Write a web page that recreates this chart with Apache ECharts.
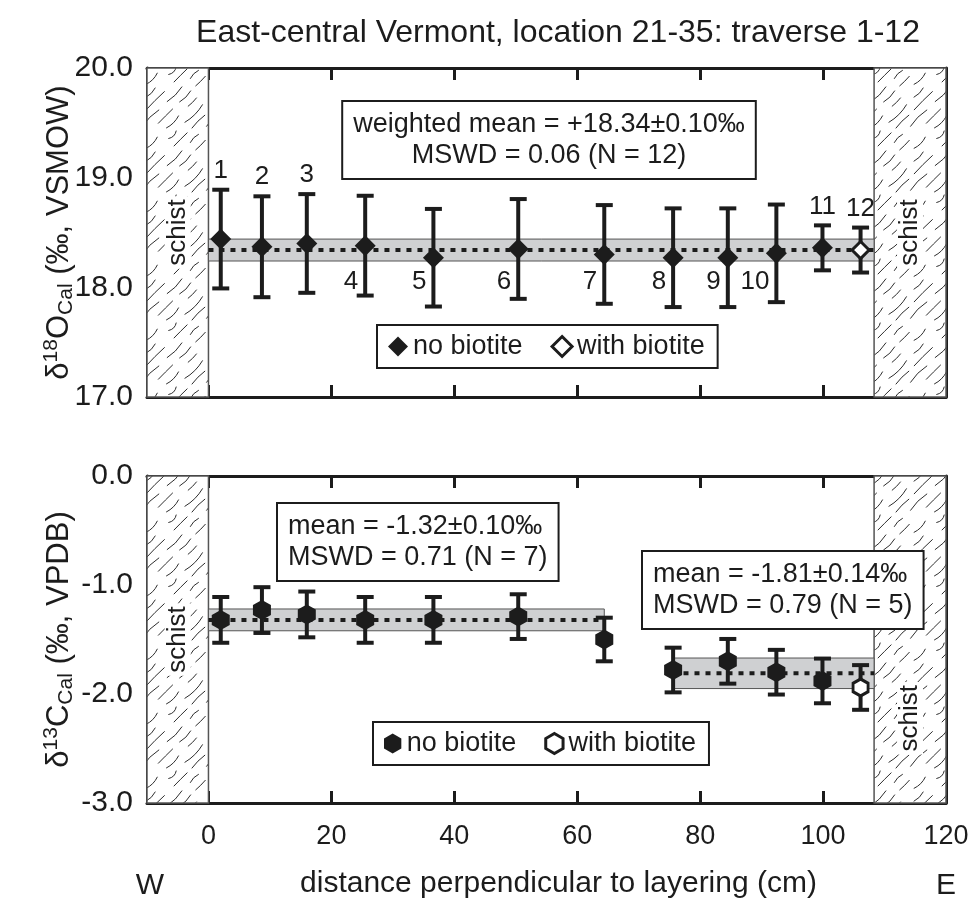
<!DOCTYPE html>
<html>
<head>
<meta charset="utf-8">
<script src="https://cdn.jsdelivr.net/npm/echarts@6/dist/echarts.min.js"></script>
<style>
  html, body { margin: 0; padding: 0; background: #fff; }
  #chart { width: 968px; height: 900px; }
</style>
</head>
<body>
<div id="chart"></div>
<script>
// Traverse 1-12, location 21-35, east-central Vermont
const SAMPLE_NO   = ['1', '2', '3', '4', '5', '6', '7', '8', '9', '10', '11', '12'];
const DIST_CM     = [2.0, 8.7, 16.0, 25.5, 36.6, 50.4, 64.4, 75.6, 84.5, 92.4, 99.9, 106.1];
const HAS_BIOTITE = [false, false, false, false, false, false, false, false, false, false, false, true];

// δ18O of calcite (‰ VSMOW) and 2σ
const D18O     = [18.44, 18.37, 18.40, 18.38, 18.27, 18.35, 18.30, 18.27, 18.27, 18.31, 18.36, 18.34];
const D18O_ERR = [0.45, 0.46, 0.45, 0.455, 0.445, 0.455, 0.45, 0.45, 0.45, 0.445, 0.205, 0.205];

// δ13C of calcite (‰ VPDB) and 2σ
const D13C     = [-1.32, -1.23, -1.27, -1.32, -1.32, -1.29, -1.50, -1.78, -1.70, -1.80, -1.88, -1.94];
const D13C_ERR = [0.21, 0.21, 0.21, 0.21, 0.21, 0.205, 0.20, 0.205, 0.205, 0.205, 0.205, 0.205];

// means: [value, ±], with the distance span they apply to
const O_MEAN    = [18.34, 0.10];
const O_SPAN    = [0, 108.3];
const C_MEAN_W  = [-1.32, 0.10];
const C_SPAN_W  = [0, 64.4];
const C_MEAN_E  = [-1.81, 0.14];
const C_SPAN_E  = [75.5, 108.3];

// schist contacts on either side of the calcite layer (cm)
const SCHIST_W = [-10, 0];
const SCHIST_E = [108.3, 120];

const X_TICKS   = [0, 20, 40, 60, 80, 100, 120];
const O_RANGE   = [17, 20];
const C_RANGE   = [-3, 0];

const FONT = '"Liberation Sans", Arial, Helvetica, sans-serif';
const INK = '#1c1c1c';
const FS = 27;

// sample numbers drawn above the bar (the rest sit lower-left of it)
const NUMBER_ABOVE = new Set([0, 1, 2, 10, 11]);
const LOWER_NUMBER_ROW = 18.05;

// --- hatch texture for the schist -------------------------------------
function makeHatch() {
  const S = 64;
  const cv = document.createElement('canvas');
  cv.width = S; cv.height = S;
  const ctx = cv.getContext('2d');
  ctx.fillStyle = '#fff';
  ctx.fillRect(0, 0, S, S);
  ctx.strokeStyle = '#2e2e2e';
  ctx.lineWidth = 1;
  ctx.lineCap = 'round';
  let seed = 11;
  const rnd = () => { seed = (seed * 16807) % 2147483647; return (seed - 1) / 2147483646; };
  const rows = 5, sp = S / rows;
  for (let k = 0; k < rows; k++) {
    let u = rnd() * 8;
    while (u < S - 6) {
      const len = 7 + rnd() * 13;
      const u1 = Math.min(u + len, S - 3);
      const x0 = k * sp + u, y0 = S - u;
      const x1 = k * sp + u1, y1 = S - u1;
      const bend = (rnd() - 0.5) * 5;
      const mx = (x0 + x1) / 2 + bend, my = (y0 + y1) / 2 + bend;
      for (const dx of [-S, 0, S]) for (const dy of [-S, 0, S]) {
        ctx.beginPath();
        ctx.moveTo(x0 + dx, y0 + dy);
        ctx.quadraticCurveTo(mx + dx, my + dy, x1 + dx, y1 + dy);
        ctx.stroke();
      }
      u = u1 + 5 + rnd() * 9;
    }
  }
  return cv;
}
const HATCH = { image: makeHatch(), repeat: 'repeat' };

const HEXAGON = 'path://M50,0 L93.3,25 L93.3,75 L50,100 L6.7,75 L6.7,25 Z';

// --- helpers -------------------------------------------------------------
function errorBars(showNumbers) {
  return (params, api) => {
    const x = api.value(0), y = api.value(1), e = api.value(2), i = api.value(3);
    const hi = api.coord([x, y + e]);
    const lo = api.coord([x, y - e]);
    const hw = 8.5;
    const st = { stroke: INK, lineWidth: 4 };
    const children = [
      { type: 'line', shape: { x1: hi[0], y1: hi[1], x2: lo[0], y2: lo[1] }, style: st },
      { type: 'line', shape: { x1: hi[0] - hw, y1: hi[1], x2: hi[0] + hw, y2: hi[1] }, style: st },
      { type: 'line', shape: { x1: lo[0] - hw, y1: lo[1], x2: lo[0] + hw, y2: lo[1] }, style: st }
    ];
    if (showNumbers) {
      const font = '26px ' + FONT;
      if (NUMBER_ABOVE.has(i)) {
        children.push({ type: 'text', x: hi[0], y: hi[1] - 6,
          style: { text: SAMPLE_NO[i], font, fill: INK, align: 'center', verticalAlign: 'bottom' } });
      } else {
        const row = api.coord([x, LOWER_NUMBER_ROW]);
        children.push({ type: 'text', x: hi[0] - 7, y: row[1],
          style: { text: SAMPLE_NO[i], font, fill: INK, align: 'right', verticalAlign: 'middle' } });
      }
    }
    return { type: 'group', children };
  };
}

function schistArea(gi, eastLabelPos) {
  const lbl = (pos) => ({
    show: true, formatter: 'schist', rotate: 90, position: pos,
    fontSize: 26, fontFamily: FONT, color: INK,
    align: 'center', verticalAlign: 'middle',
    backgroundColor: '#fff', padding: [0, 3]
  });
  const yr = gi ? C_RANGE : O_RANGE;
  return {
    type: 'line', xAxisIndex: gi * 2, yAxisIndex: gi * 2, data: [], z: 1, silent: true,
    markArea: {
      silent: true,
      itemStyle: { color: HATCH, opacity: 1, borderColor: '#555', borderWidth: 1.5 },
      data: [
        [{ xAxis: SCHIST_W[0], yAxis: yr[0], label: lbl('inside') }, { xAxis: SCHIST_W[1], yAxis: yr[1] }],
        [{ xAxis: SCHIST_E[0], yAxis: yr[0], label: lbl(eastLabelPos) }, { xAxis: SCHIST_E[1], yAxis: yr[1] }]
      ]
    }
  };
}

function meanBand(gi, mean, span) {
  return [
    {
      type: 'line', xAxisIndex: gi * 2, yAxisIndex: gi * 2, data: [], z: 2, silent: true,
      markArea: {
        silent: true,
        itemStyle: { color: '#cfd0d2', opacity: 1, borderColor: '#555', borderWidth: 1 },
        data: [[{ xAxis: span[0], yAxis: mean[0] - mean[1] }, { xAxis: span[1], yAxis: mean[0] + mean[1] }]]
      }
    },
    {
      type: 'line', xAxisIndex: gi * 2, yAxisIndex: gi * 2, z: 3, silent: true,
      symbol: 'none',
      lineStyle: { color: INK, width: 4, type: [5, 6], cap: 'butt' },
      data: [[span[0], mean[0]], [span[1], mean[0]]]
    }
  ];
}

function xAxes(gi, withLabels) {
  const common = {
    type: 'value', gridIndex: gi, min: -10, max: 120, interval: 10,
    axisLine: { onZero: false, lineStyle: { color: INK, width: 3 } },
    axisTick: { inside: true, length: 12, customValues: X_TICKS, lineStyle: { color: INK, width: 3 } },
    splitLine: { show: false }
  };
  return [
    Object.assign({}, common, {
      position: 'bottom',
      axisLabel: withLabels
        ? { show: true, customValues: X_TICKS, fontSize: 27, fontFamily: FONT, color: INK, margin: 20 }
        : { show: false },
      name: withLabels ? 'distance perpendicular to layering (cm)' : '',
      nameLocation: 'middle', nameGap: 66, nameMoveOverlap: false,
      nameTextStyle: { fontSize: 30, fontFamily: FONT, color: INK, padding: [0, 0, 0, 24] }
    }),
    Object.assign({}, common, { position: 'top', axisLabel: { show: false } })
  ];
}

function yAxes(gi, range, name) {
  const common = {
    type: 'value', gridIndex: gi, min: range[0], max: range[1], interval: 0.5,
    axisLine: { show: true, onZero: false, lineStyle: { color: INK, width: 3 } },
    axisTick: { show: true, inside: true, length: 12, lineStyle: { color: INK, width: 3 } },
    splitLine: { show: false }
  };
  return [
    Object.assign({}, common, {
      position: 'left',
      axisLabel: {
        fontSize: 30, fontFamily: FONT, color: INK, margin: 14,
        formatter: v => (Math.abs(v - Math.round(v)) < 1e-9 ? v.toFixed(1) : '')
      },
      name, nameLocation: 'middle', nameGap: 70, nameRotate: 90, nameMoveOverlap: false,
      nameTextStyle: {
        rich: {
          a: { fontSize: 31, fontFamily: FONT, color: INK, lineHeight: 36 },
          s: { fontSize: 21, fontFamily: FONT, color: INK, lineHeight: 22, verticalAlign: 'top' },
          b: { fontSize: 21, fontFamily: FONT, color: INK, lineHeight: 20, verticalAlign: 'bottom' }
        }
      }
    }),
    Object.assign({}, common, { position: 'right', axisLabel: { show: false } })
  ];
}

function markers(gi, values, symbol, sizeFilled, sizeOpen) {
  const pts = (flag) => DIST_CM.map((x, i) => [x, values[i]]).filter((_, i) => HAS_BIOTITE[i] === flag);
  return [
    { type: 'scatter', name: 'no biotite', xAxisIndex: gi * 2, yAxisIndex: gi * 2, z: 5,
      symbol, symbolSize: sizeFilled, itemStyle: { color: INK, opacity: 1 }, data: pts(false) },
    { type: 'scatter', name: 'with biotite', xAxisIndex: gi * 2, yAxisIndex: gi * 2, z: 5,
      symbol, symbolSize: sizeOpen,
      itemStyle: { color: '#fff', opacity: 1, borderColor: INK, borderWidth: 3 }, data: pts(true) }
  ];
}

function legendBox(left, top, icon, w, h) {
  return {
    left, top, orient: 'horizontal', selectedMode: false,
    padding: [8, 13, 8, 11], itemGap: 28,
    borderColor: INK, borderWidth: 2, backgroundColor: '#fff',
    itemWidth: w, itemHeight: h,
    textStyle: { fontSize: FS, fontFamily: FONT, color: INK },
    data: [
      { name: 'no biotite', icon, itemStyle: { color: INK, opacity: 1, borderWidth: 0 } },
      { name: 'with biotite', icon, itemStyle: { color: '#fff', opacity: 1, borderColor: INK, borderWidth: 3 } }
    ]
  };
}

function statBox(x, y, lines, align) {
  return {
    type: 'text', x, y, z: 50,
    style: {
      text: lines.join('\n'), font: FS + 'px ' + FONT, fill: INK,
      align, verticalAlign: 'top', lineHeight: 31,
      padding: [7, 10, 7, 10], borderColor: INK, borderWidth: 2, backgroundColor: '#fff'
    }
  };
}

const errData = (vals, errs) => DIST_CM.map((x, i) => [x, vals[i], errs[i], i]);

const option = {
  animation: false,
  backgroundColor: '#fff',
  title: {
    text: 'East-central Vermont, location 21-35: traverse 1-12',
    left: 553, top: 12, textAlign: 'center',
    textStyle: { fontSize: 32, fontWeight: 'normal', fontFamily: FONT, color: INK }
  },
  grid: [
    { left: 147, right: 22, top: 68, height: 329, outerBoundsMode: 'none' },
    { left: 147, right: 22, top: 476, height: 327, outerBoundsMode: 'none' }
  ],
  xAxis: [...xAxes(0, false), ...xAxes(1, true)],
  yAxis: [
    ...yAxes(0, O_RANGE, '{a|δ}{s|18}{a|O}{b|Cal}{a| (‰, VSMOW)}'),
    ...yAxes(1, C_RANGE, '{a|δ}{s|13}{a|C}{b|Cal}{a| (‰, VPDB)}')
  ],
  legend: [
    legendBox(377, 325, 'diamond', 20, 20),
    legendBox(373, 722, HEXAGON, 18, 20)
  ],
  graphic: [
    statBox(549, 102, ['weighted mean = +18.34±0.10‰', 'MSWD = 0.06 (N = 12)'], 'center'),
    statBox(278, 504, ['mean = -1.32±0.10‰', 'MSWD = 0.71 (N = 7)'], 'left'),
    statBox(643, 552, ['mean = -1.81±0.14‰', 'MSWD = 0.79 (N = 5)'], 'left'),
    { type: 'text', x: 150, y: 886, style: { text: 'W', font: '30px ' + FONT, fill: INK, align: 'center', verticalAlign: 'middle' } },
    { type: 'text', x: 946, y: 886, style: { text: 'E', font: '30px ' + FONT, fill: INK, align: 'center', verticalAlign: 'middle' } }
  ],
  series: [
    schistArea(0, 'inside'),
    schistArea(1, ['50%', '74%']),
    ...meanBand(0, O_MEAN, O_SPAN),
    ...meanBand(1, C_MEAN_W, C_SPAN_W),
    ...meanBand(1, C_MEAN_E, C_SPAN_E),
    { type: 'custom', xAxisIndex: 0, yAxisIndex: 0, z: 4, silent: true,
      renderItem: errorBars(true), data: errData(D18O, D18O_ERR) },
    { type: 'custom', xAxisIndex: 2, yAxisIndex: 2, z: 4, silent: true,
      renderItem: errorBars(false), data: errData(D13C, D13C_ERR) },
    ...markers(0, D18O, 'diamond', 21, 17),
    ...markers(1, D13C, HEXAGON, [18, 20], [15, 17])
  ]
};

const chart = echarts.init(document.getElementById('chart'), null, { renderer: 'canvas' });
chart.setOption(option);
</script>
</body>
</html>
